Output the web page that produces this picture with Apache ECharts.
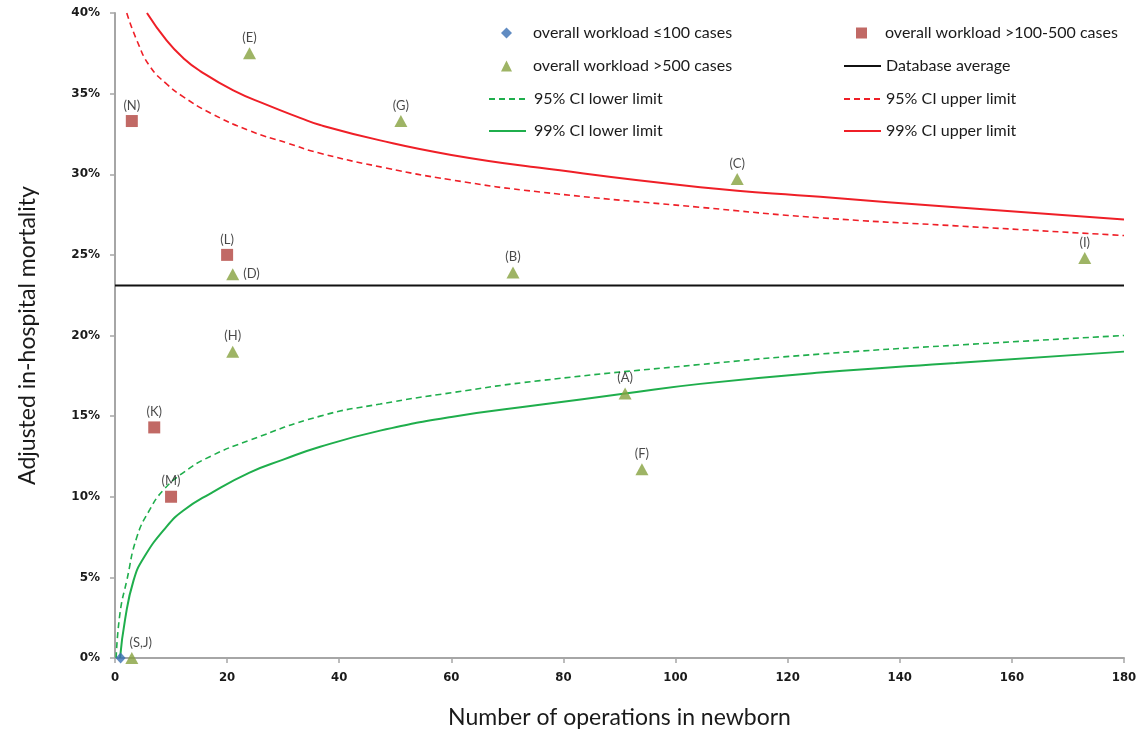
<!DOCTYPE html>
<html>
<head>
<meta charset="utf-8">
<script src="https://cdn.jsdelivr.net/npm/echarts@6/dist/echarts.min.js"></script>
<style>
  html, body { margin: 0; padding: 0; background: #ffffff; }
  #chart { width: 1143px; height: 737px; }
</style>
</head>
<body>
<div id="chart"></div>
<script>
// ---- Centres, grouped by overall workload (x = operations in newborn, y = adjusted mortality %) ----
const lowWorkloadX = [1];
const lowWorkloadY = [0];
const lowWorkloadNames = [''];

const midWorkloadX = [3, 20, 7, 10];
const midWorkloadY = [33.3, 25.0, 14.3, 10.0];
const midWorkloadNames = ['(N)', '(L)', '(K)', '(M)'];

const highWorkloadX = [24, 51, 111, 71, 173, 21, 21, 91, 94, 3];
const highWorkloadY = [37.5, 33.3, 29.7, 23.9, 24.8, 23.8, 19.0, 16.4, 11.7, 0];
const highWorkloadNames = ['(E)', '(G)', '(C)', '(B)', '(I)', '(D)', '(H)', '(A)', '(F)', '(S,J)'];

// ---- Database average (%) ----
const databaseAverage = 23.1;
const averageSpanX = [0, 180];

// ---- Confidence limits (%) ----
const ci95LowerX = [0.2, 0.9, 2.1, 3.9, 6.2, 8.6, 12.2, 17, 24, 36.6, 47.3, 60, 75.8, 104.4, 125.8, 150, 180];
const ci95LowerY = [0, 2.8, 4.8, 7.5, 9.2, 10.4, 11.5, 12.5, 13.5, 15.0, 15.75, 16.45, 17.2, 18.2, 18.85, 19.4, 20.0];

const ci99LowerX = [0.9, 1.8, 3.3, 5.1, 9.2, 12.2, 17, 24, 30, 36.6, 47.3, 60, 75.8, 91, 104.4, 125.8, 150, 180];
const ci99LowerY = [0, 2.4, 4.8, 6.2, 8.15, 9.15, 10.2, 11.5, 12.3, 13.1, 14.1, 14.95, 15.7, 16.4, 17.0, 17.7, 18.3, 19.0];

const ci95UpperX = [2.1, 3.9, 6.2, 9.2, 12.2, 17, 24, 30.6, 36.6, 48.2, 60, 75.8, 104.4, 125.8, 150, 180];
const ci95UpperY = [40.0, 38.3, 36.7, 35.6, 34.8, 33.8, 32.7, 31.95, 31.3, 30.4, 29.65, 28.9, 27.95, 27.3, 26.8, 26.2];

const ci99UpperX = [5.7, 9.2, 12.2, 15.2, 21.1, 27.1, 33, 36.6, 47.3, 60, 75.8, 104.4, 125.8, 150, 180];
const ci99UpperY = [40.0, 38.3, 37.2, 36.4, 35.2, 34.3, 33.5, 33.05, 32.1, 31.2, 30.4, 29.2, 28.6, 27.95, 27.2];

// ---- Axis ranges ----
const xRange = { min: 0, max: 180, step: 20 };
const yRange = { min: 0, max: 40, step: 5 };

// ---- Series names ----
const NAME_LOW = 'overall workload \u2264100 cases';
const NAME_MID = 'overall workload >100-500 cases';
const NAME_HIGH = 'overall workload >500 cases';
const NAME_AVG = 'Database average';
const NAME_L95 = '95% CI lower limit';
const NAME_U95 = '95% CI upper limit';
const NAME_L99 = '99% CI lower limit';
const NAME_U99 = '99% CI upper limit';

const RED = '#ef1f27';
const GREEN = '#1fae4c';
const TEXT = '#1a1a1a';
const TEXT_FONT = "Lato, 'Open Sans', sans-serif";

// labels that do not sit directly above their marker
const labelPlacement = {
  '(D)': { position: 'right', distance: 4 },
  '(S,J)': { position: 'top', offset: [9, 0] }
};

function pairs(xs, ys) {
  return xs.map((x, i) => [x, ys[i]]);
}

function pointData(xs, ys, names) {
  return xs.map((x, i) => {
    const name = names[i];
    const item = { value: [x, ys[i]], name: name };
    if (name) {
      item.label = Object.assign({ show: true, position: 'top', distance: 3 }, labelPlacement[name] || {});
    }
    return item;
  });
}

function limitSeries(name, xs, ys, color, dashed) {
  return {
    name: name,
    type: 'line',
    data: pairs(xs, ys),
    smooth: 0.5,
    symbol: 'none',
    clip: true,
    lineStyle: { color: color, width: dashed ? 1.6 : 2, type: dashed ? [6, 4] : 'solid' },
    itemStyle: { color: color },
    z: 2
  };
}

const pointLabel = {
  show: false,
  formatter: '{b}',
  color: TEXT,
  fontFamily: TEXT_FONT,
  fontSize: 13
};

const series = [
  limitSeries(NAME_L95, ci95LowerX, ci95LowerY, GREEN, true),
  limitSeries(NAME_U95, ci95UpperX, ci95UpperY, RED, true),
  limitSeries(NAME_L99, ci99LowerX, ci99LowerY, GREEN, false),
  limitSeries(NAME_U99, ci99UpperX, ci99UpperY, RED, false),
  {
    name: NAME_AVG,
    type: 'line',
    data: averageSpanX.map(x => [x, databaseAverage]),
    symbol: 'none',
    lineStyle: { color: '#111111', width: 2 },
    itemStyle: { color: '#111111' },
    z: 2
  },
  {
    name: NAME_LOW,
    type: 'scatter',
    symbol: 'diamond',
    symbolSize: [10, 11],
    itemStyle: { color: '#3a6fb3' },
    label: pointLabel,
    data: pointData(lowWorkloadX, lowWorkloadY, lowWorkloadNames),
    z: 5
  },
  {
    name: NAME_MID,
    type: 'scatter',
    symbol: 'rect',
    symbolSize: 12,
    itemStyle: { color: '#b1443f' },
    label: pointLabel,
    data: pointData(midWorkloadX, midWorkloadY, midWorkloadNames),
    z: 5
  },
  {
    name: NAME_HIGH,
    type: 'scatter',
    symbol: 'triangle',
    symbolSize: [13, 12],
    itemStyle: { color: '#86a13f' },
    label: pointLabel,
    data: pointData(highWorkloadX, highWorkloadY, highWorkloadNames),
    z: 5
  }
];

// Two-column legend, one entry per slot; textLeft is where the entry text begins
const legendSlots = [
  { name: NAME_LOW, left: 488, top: 25, marker: true, textLeft: 533 },
  { name: NAME_MID, left: 843, top: 25, marker: true, textLeft: 885 },
  { name: NAME_HIGH, left: 488, top: 58, marker: true, textLeft: 533 },
  { name: NAME_AVG, left: 843, top: 58, marker: false, textLeft: 885 },
  { name: NAME_L95, left: 488, top: 91, marker: false, textLeft: 533 },
  { name: NAME_U95, left: 843, top: 91, marker: false, textLeft: 885 },
  { name: NAME_L99, left: 488, top: 123, marker: false, textLeft: 533 },
  { name: NAME_U99, left: 843, top: 123, marker: false, textLeft: 885 }
];

const legends = legendSlots.map(slot => {
  const slotWidth = 37;
  const iconWidth = slot.marker ? 11 : slotWidth;
  const iconLeft = slot.marker ? slot.left + (slotWidth - iconWidth) / 2 : slot.left;
  const textPad = Math.max(0, slot.textLeft - (iconLeft + iconWidth + 5));
  const legend = {
    data: [slot.name],
    left: iconLeft,
    top: slot.top,
    padding: 0,
    orient: 'horizontal',
    itemWidth: iconWidth,
    itemHeight: slot.marker ? 11 : 12,
    selectedMode: false,
    textStyle: {
      color: TEXT,
      fontFamily: TEXT_FONT,
      fontSize: 16,
      padding: [0, 0, 0, textPad]
    }
  };
  if (!slot.marker) {
    // line entries show only the stroke
    legend.itemStyle = { opacity: 0 };
  }
  return legend;
});

const axisGray = '#a6a6a6';

const option = {
  backgroundColor: '#ffffff',
  animation: false,
  grid: { left: 115, right: 19, top: 13, bottom: 79, containLabel: false },
  legend: legends,
  xAxis: {
    type: 'value',
    min: xRange.min,
    max: xRange.max,
    interval: xRange.step,
    name: 'Number of operations in newborn',
    nameLocation: 'middle',
    nameGap: 48,
    nameTextStyle: { color: TEXT, fontFamily: TEXT_FONT, fontSize: 23 },
    axisLine: { show: true, lineStyle: { color: axisGray, width: 2 } },
    axisTick: { show: true, length: 5, lineStyle: { color: axisGray, width: 1.5 } },
    axisLabel: {
      color: TEXT,
      fontFamily: "'Liberation Sans Narrow', 'DejaVu Sans Condensed', sans-serif",
      fontWeight: 'bold',
      fontSize: 13,
      margin: 13
    },
    splitLine: { show: false }
  },
  yAxis: {
    type: 'value',
    min: yRange.min,
    max: yRange.max,
    interval: yRange.step,
    name: 'Adjusted in-hospital mortality',
    nameLocation: 'middle',
    nameGap: 76,
    nameTextStyle: { color: TEXT, fontFamily: TEXT_FONT, fontSize: 23 },
    axisLine: { show: true, lineStyle: { color: axisGray, width: 2 } },
    axisTick: { show: true, length: 5, lineStyle: { color: axisGray, width: 1.5 } },
    axisLabel: {
      formatter: '{value}%',
      color: TEXT,
      fontFamily: "'DejaVu Sans', sans-serif",
      fontWeight: 'bold',
      fontSize: 12,
      margin: 15
    },
    splitLine: { show: false }
  },
  series: series
};

const chart = echarts.init(document.getElementById('chart'), null, { renderer: 'canvas' });
chart.setOption(option);
</script>
</body>
</html>
